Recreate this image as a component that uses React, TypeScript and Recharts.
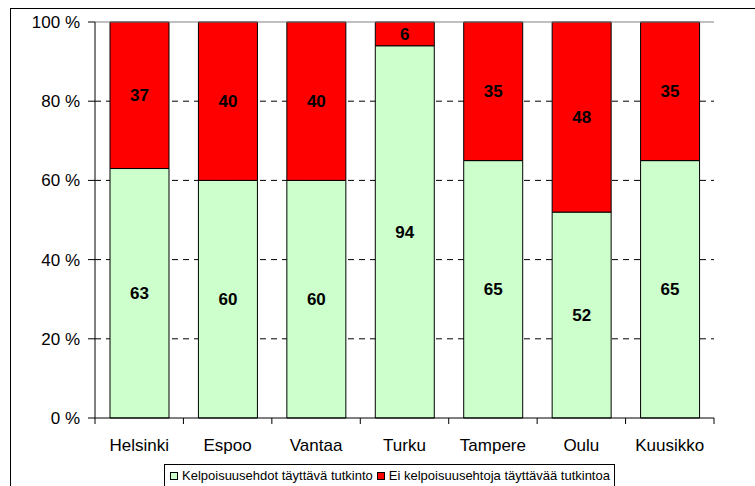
import { BarChart, Bar, XAxis, YAxis, CartesianGrid, Legend, LabelList, ReferenceLine } from 'recharts';

const cities = ['Helsinki', 'Espoo', 'Vantaa', 'Turku', 'Tampere', 'Oulu', 'Kuusikko'];
const qualified = [63, 60, 60, 94, 65, 52, 65];
const notQualified = [37, 40, 40, 6, 35, 48, 35];
const yTicks = [0, 20, 40, 60, 80, 100];
const seriesNames = ['Kelpoisuusehdot täyttävä tutkinto', 'Ei kelpoisuusehtoja täyttävää tutkintoa'];
const seriesColors = ['#CCFFCC', '#FF0000'];

const data = cities.map((name, i) => ({
  name,
  qualified: qualified[i],
  notQualified: notQualified[i],
}));

const FONT = '"Liberation Sans", Arial, sans-serif';

const CityTick = (props: any) => {
  const { x, y, payload, index, width, visibleTicksCount } = props;
  const half = payload?.offset || (width && visibleTicksCount ? width / visibleTicksCount / 2 : 0);
  return (
    <g>
      <line x1={x - half} x2={x - half} y1={y - 6} y2={y} stroke="#000" />
      {index === visibleTicksCount - 1 && (
        <line x1={x + half} x2={x + half} y1={y - 6} y2={y} stroke="#000" />
      )}
      <text x={x} y={y + 27} textAnchor="middle" fontSize={17} fontFamily={FONT} fill="#000">
        {payload.value}
      </text>
    </g>
  );
};

const LegendBox = () => (
  <div
    style={{
      border: '1px solid #000',
      background: '#fff',
      height: 30,
      boxSizing: 'border-box',
      padding: '4px 0 0 5px',
      fontFamily: FONT,
      fontSize: 13,
      lineHeight: '14px',
      color: '#000',
      whiteSpace: 'nowrap',
    }}
  >
    {seriesNames.map((n, i) => (
      <span key={n} style={{ marginRight: 4 }}>
        <span
          style={{
            display: 'inline-block',
            width: 6,
            height: 6,
            border: '1px solid #000',
            background: seriesColors[i],
            marginRight: 4,
            verticalAlign: 'middle',
            position: 'relative',
            top: -1,
          }}
        />
        {n}
      </span>
    ))}
  </div>
);

const App = () => {
  return (
    <div style={{ position: 'absolute', left: 0, top: 0, width: 755, height: 486, overflow: 'hidden', background: '#fff' }}>
      <div
        style={{
          position: 'absolute',
          left: 10,
          top: 8,
          width: 800,
          height: 500,
          borderLeft: '1px solid #000',
          borderTop: '1px solid #000',
        }}
      />
      <BarChart
        width={755}
        height={486}
        data={data}
        margin={{ top: 22, right: 41, left: 0, bottom: 38 }}
        barSize={59}
        style={{ position: 'absolute', left: 0, top: 0 }}
      >
        <CartesianGrid vertical={false} stroke="#000" strokeDasharray="6 5" horizontalValues={[20, 40, 60, 80]} />
        <ReferenceLine y={100} stroke="#808080" />
        <XAxis
          dataKey="name"
          tick={<CityTick />}
          tickLine={false}
          tickSize={6}
          tickMargin={0}
          axisLine={{ stroke: '#000' }}
          interval={0}
        />
        <YAxis
          domain={[0, 100]}
          ticks={yTicks}
          width={95}
          tickSize={7}
          tickMargin={8}
          tickFormatter={(v: number) => `${v} %`}
          tick={{ fill: '#000', fontSize: 17, fontFamily: FONT }}
          axisLine={{ stroke: '#000' }}
          tickLine={{ stroke: '#000' }}
        />
        <YAxis
          yAxisId="right"
          orientation="right"
          domain={[0, 100]}
          width={0}
          tick={false}
          tickLine={false}
          axisLine={{ stroke: '#808080' }}
        />
        <Legend
          layout="horizontal"
          verticalAlign="middle"
          align="center"
          content={<LegendBox />}
          wrapperStyle={{ left: 164, top: 464, width: 451, height: 30 }}
        />
        <Bar dataKey="qualified" stackId="a" fill={seriesColors[0]} stroke="#000" strokeWidth={1} isAnimationActive={false}>
          <LabelList dataKey="qualified" position="center" fill="#000" fontSize={17} fontWeight="bold" fontFamily={FONT} />
        </Bar>
        <Bar dataKey="notQualified" stackId="a" fill={seriesColors[1]} stroke="#000" strokeWidth={1} isAnimationActive={false}>
          <LabelList dataKey="notQualified" position="center" fill="#000" fontSize={17} fontWeight="bold" fontFamily={FONT} />
        </Bar>
      </BarChart>
    </div>
  );
};

export default App;
